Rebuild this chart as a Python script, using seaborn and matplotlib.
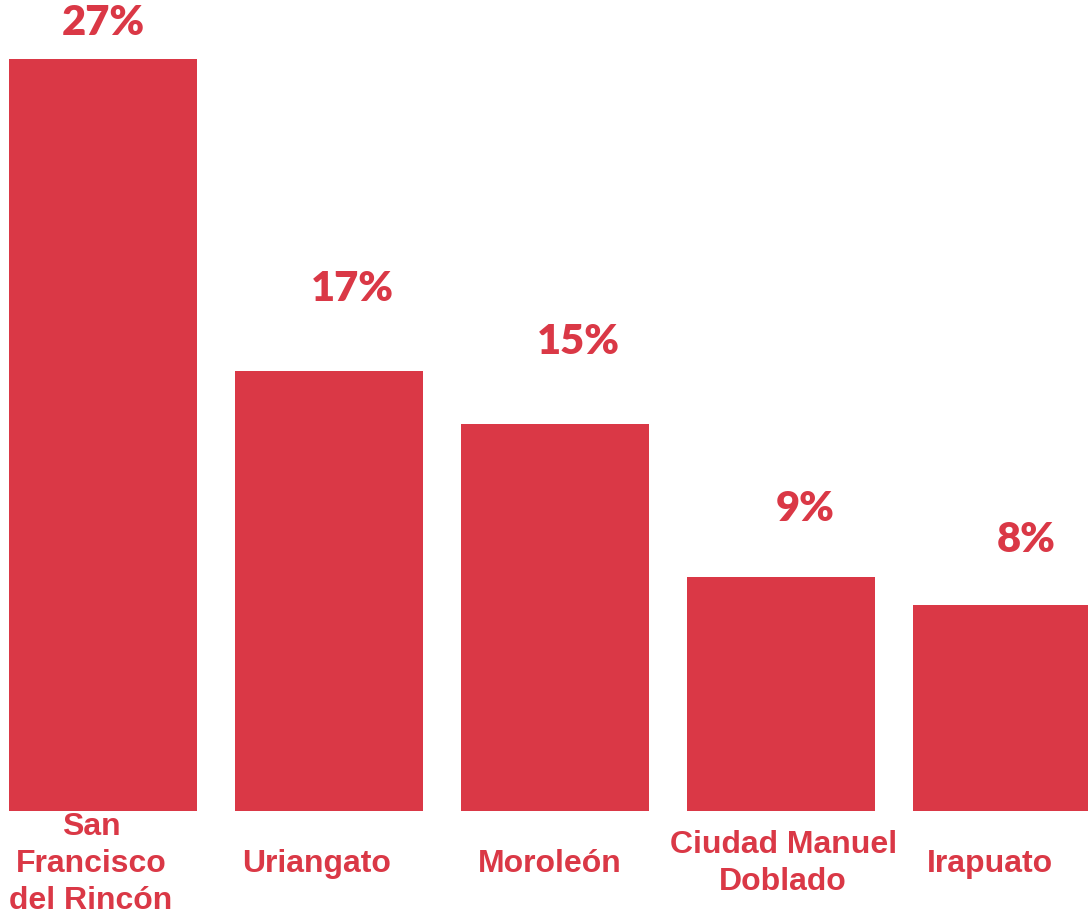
import matplotlib
matplotlib.use("Agg")
import matplotlib.pyplot as plt
import matplotlib.transforms as mtransforms
import seaborn as sns
import pandas as pd

# === DATA ===
municipios = ["San\nFrancisco\ndel Rincón", "Uriangato", "Moroleón",
              "Ciudad Manuel\nDoblado", "Irapuato"]
porcentajes = [27.0, 15.8, 13.9, 8.4, 7.4]        # bar heights
etiquetas = ["27%", "17%", "15%", "9%", "8%"]      # printed value labels

df = pd.DataFrame({"municipio": municipios, "pct": porcentajes})

# === STYLE / LAYOUT ===
rojo = "#DA3846"
sns.set_style("white")
plt.rcParams["font.family"] = ["Liberation Sans", "DejaVu Sans"]

# label offsets in pixels (dx, dy) relative to each bar top
label_dx = [0, 23, 23, 24, 19]
label_dy = [36, 82, 82, 68, 65]
# small horizontal nudges for category labels (pixels)
tick_dx = [-12, -13, -5, 2, -17]

fig = plt.figure(figsize=(10.88, 9.22), dpi=100)
ax = fig.add_axes([0, 111 / 922, 1, 811 / 922])

sns.barplot(data=df, x="municipio", y="pct", color=rojo, saturation=1,
            width=0.83, linewidth=0, ax=ax)

ax.set_xlim(-0.456, 4.358)
ax.set_ylim(0, 811 / 752 * 27)

for i, (v, lab) in enumerate(zip(porcentajes, etiquetas)):
    ax.annotate(lab, xy=(i, v), xytext=(label_dx[i], label_dy[i]),
                textcoords="offset pixels", ha="center", va="center",
                fontsize=30, fontweight="heavy", color=rojo, family="Lato")

ax.set_xticks(range(len(municipios)))
ax.set_xticklabels(municipios, fontsize=23, fontweight="bold", color=rojo,
                   va="center", linespacing=1.3)
ax.tick_params(axis="x", length=0, pad=38)
for lbl, dx in zip(ax.get_xticklabels(), tick_dx):
    lbl.set_transform(lbl.get_transform() +
                      mtransforms.ScaledTranslation(dx / 100, 0, fig.dpi_scale_trans))

ax.set_yticks([])
ax.set_xlabel("")
ax.set_ylabel("")
sns.despine(ax=ax, left=True, bottom=True)

fig.savefig("out.png", dpi=100)
